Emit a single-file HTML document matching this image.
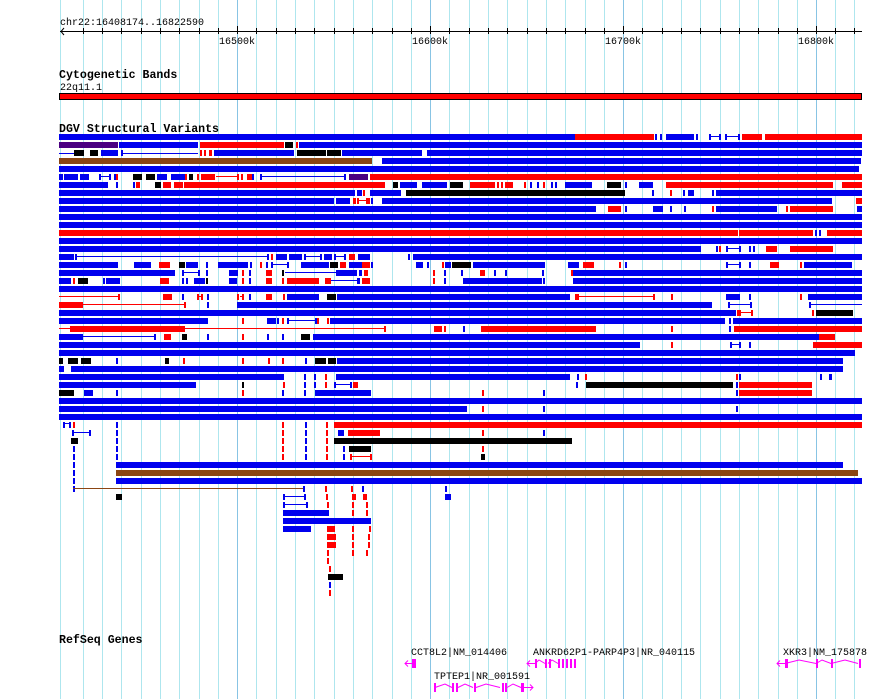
<!DOCTYPE html>
<html><head><meta charset="utf-8"><style>
html,body{margin:0;padding:0;background:#fff;width:890px;height:699px;overflow:hidden}
svg{display:block}
text{font-family:"Liberation Mono","DejaVu Sans Mono",monospace;font-size:10px;fill:#000}
.h{font-weight:bold;font-size:11.6px}
.b{fill:#0000ee}.r{fill:#ff0000}.k{fill:#000}.p{fill:#4b0082}.n{fill:#8b4513}.m{fill:#ff00ff}
</style></head><body>
<svg width="890" height="699" viewBox="0 0 890 699" xmlns="http://www.w3.org/2000/svg">
<g stroke="#aee6ee" stroke-width="1">
<line x1="60.5" y1="0" x2="60.5" y2="699"/>
<line x1="83.5" y1="0" x2="83.5" y2="699"/><line x1="102.5" y1="0" x2="102.5" y2="699"/><line x1="121.5" y1="0" x2="121.5" y2="699"/><line x1="141.5" y1="0" x2="141.5" y2="699"/><line x1="160.5" y1="0" x2="160.5" y2="699"/><line x1="179.5" y1="0" x2="179.5" y2="699"/><line x1="199.5" y1="0" x2="199.5" y2="699"/><line x1="218.5" y1="0" x2="218.5" y2="699"/>
<line x1="256.5" y1="0" x2="256.5" y2="699"/><line x1="276.5" y1="0" x2="276.5" y2="699"/><line x1="295.5" y1="0" x2="295.5" y2="699"/><line x1="314.5" y1="0" x2="314.5" y2="699"/><line x1="334.5" y1="0" x2="334.5" y2="699"/><line x1="353.5" y1="0" x2="353.5" y2="699"/><line x1="372.5" y1="0" x2="372.5" y2="699"/><line x1="392.5" y1="0" x2="392.5" y2="699"/><line x1="411.5" y1="0" x2="411.5" y2="699"/>
<line x1="449.5" y1="0" x2="449.5" y2="699"/><line x1="469.5" y1="0" x2="469.5" y2="699"/><line x1="488.5" y1="0" x2="488.5" y2="699"/><line x1="507.5" y1="0" x2="507.5" y2="699"/><line x1="527.5" y1="0" x2="527.5" y2="699"/><line x1="546.5" y1="0" x2="546.5" y2="699"/><line x1="565.5" y1="0" x2="565.5" y2="699"/><line x1="585.5" y1="0" x2="585.5" y2="699"/><line x1="604.5" y1="0" x2="604.5" y2="699"/>
<line x1="642.5" y1="0" x2="642.5" y2="699"/><line x1="662.5" y1="0" x2="662.5" y2="699"/><line x1="681.5" y1="0" x2="681.5" y2="699"/><line x1="700.5" y1="0" x2="700.5" y2="699"/><line x1="720.5" y1="0" x2="720.5" y2="699"/><line x1="739.5" y1="0" x2="739.5" y2="699"/><line x1="758.5" y1="0" x2="758.5" y2="699"/><line x1="778.5" y1="0" x2="778.5" y2="699"/><line x1="797.5" y1="0" x2="797.5" y2="699"/>
<line x1="835.5" y1="0" x2="835.5" y2="699"/><line x1="854.5" y1="0" x2="854.5" y2="699"/>
</g>
<g stroke="#88c4e4" stroke-width="1">
<line x1="237.5" y1="0" x2="237.5" y2="699"/><line x1="430.5" y1="0" x2="430.5" y2="699"/><line x1="623.5" y1="0" x2="623.5" y2="699"/><line x1="816.5" y1="0" x2="816.5" y2="699"/>
</g>
<!-- ruler -->
<text x="60" y="25">chr22:16408174..16822590</text>
<rect x="60" y="31" width="802" height="1" class="k"/>
<path d="M64 28 L61 31.5 L64 35" stroke="#000" fill="none"/>
<g class="k">
<rect x="83" y="28" width="1" height="6"/><rect x="102" y="28" width="1" height="6"/><rect x="121" y="28" width="1" height="6"/><rect x="141" y="28" width="1" height="6"/><rect x="160" y="28" width="1" height="6"/><rect x="179" y="28" width="1" height="6"/><rect x="199" y="28" width="1" height="6"/><rect x="218" y="28" width="1" height="6"/><rect x="237" y="26" width="1" height="8"/>
<rect x="256" y="28" width="1" height="6"/><rect x="276" y="28" width="1" height="6"/><rect x="295" y="28" width="1" height="6"/><rect x="314" y="28" width="1" height="6"/><rect x="334" y="28" width="1" height="6"/><rect x="353" y="28" width="1" height="6"/><rect x="372" y="28" width="1" height="6"/><rect x="392" y="28" width="1" height="6"/><rect x="411" y="28" width="1" height="6"/><rect x="430" y="26" width="1" height="8"/>
<rect x="449" y="28" width="1" height="6"/><rect x="469" y="28" width="1" height="6"/><rect x="488" y="28" width="1" height="6"/><rect x="507" y="28" width="1" height="6"/><rect x="527" y="28" width="1" height="6"/><rect x="546" y="28" width="1" height="6"/><rect x="565" y="28" width="1" height="6"/><rect x="585" y="28" width="1" height="6"/><rect x="604" y="28" width="1" height="6"/><rect x="623" y="26" width="1" height="8"/>
<rect x="642" y="28" width="1" height="6"/><rect x="662" y="28" width="1" height="6"/><rect x="681" y="28" width="1" height="6"/><rect x="700" y="28" width="1" height="6"/><rect x="720" y="28" width="1" height="6"/><rect x="739" y="28" width="1" height="6"/><rect x="758" y="28" width="1" height="6"/><rect x="778" y="28" width="1" height="6"/><rect x="797" y="28" width="1" height="6"/><rect x="816" y="26" width="1" height="8"/><rect x="835" y="28" width="1" height="6"/><rect x="854" y="28" width="1" height="6"/>
</g>
<text x="219" y="44">16500k</text><text x="412" y="44">16600k</text><text x="605" y="44">16700k</text><text x="798" y="44">16800k</text>
<!-- cytoband -->
<text class="h" x="59" y="78">Cytogenetic Bands</text>
<text x="60" y="90">22q11.1</text>
<rect x="59.5" y="93.5" width="802" height="6" class="r" stroke="#000" stroke-width="1"/>
<text class="h" x="59" y="132">DGV Structural Variants</text>

<!-- rows -->
<g transform="translate(0,134)"><rect class="b" x="59" width="516" height="6"/><rect class="r" x="575" width="79" height="6"/><rect class="b" x="655" width="2" height="6"/><rect class="b" x="660" width="2" height="6"/><rect class="b" x="666" width="28" height="6"/><rect class="b" x="696" width="2" height="6"/><rect class="b" x="709" width="2" height="6"/><rect class="b" x="709" y="2" width="11" height="1"/><rect class="b" x="719" width="2" height="6"/><rect class="b" x="725" width="2" height="6"/><rect class="b" x="725" y="2" width="14" height="1"/><rect class="b" x="738" width="2" height="6"/><rect class="r" x="742" width="20" height="6"/><rect class="r" x="765" width="97" height="6"/></g>
<g transform="translate(0,142)"><rect class="p" x="59" width="59" height="6"/><rect class="b" x="119" width="79" height="6"/><rect class="r" x="200" width="84" height="6"/><rect class="k" x="285" width="8" height="6"/><rect class="r" x="296" width="2" height="6"/><rect class="b" x="299" width="563" height="6"/></g>
<g transform="translate(0,150)"><rect class="b" x="59" y="3" width="15" height="1"/><rect class="k" x="74" width="10" height="6"/><rect class="k" x="90" width="8" height="6"/><rect class="b" x="101" width="17" height="6"/><rect class="b" x="121" y="3" width="77" height="1"/><rect class="b" x="121" width="2" height="6"/><rect class="r" x="200" width="2" height="6"/><rect class="r" x="204" width="2" height="6"/><rect class="r" x="209" width="3" height="6"/><rect class="b" x="214" width="80" height="6"/><rect class="k" x="297" width="29" height="6"/><rect class="k" x="327" width="14" height="6"/><rect class="b" x="342" width="80" height="6"/><rect class="b" x="427" width="435" height="6"/></g>
<g transform="translate(0,158)"><rect class="n" x="59" width="313" height="6"/><rect class="b" x="382" width="479" height="6"/></g>
<g transform="translate(0,166)"><rect class="b" x="59" width="800" height="6"/></g>
<g transform="translate(0,174)"><rect class="b" x="59" width="4" height="6"/><rect class="b" x="64" width="14" height="6"/><rect class="b" x="80" width="9" height="6"/><rect class="b" x="99" y="2" width="12" height="1"/><rect class="b" x="99" width="2" height="6"/><rect class="b" x="109" width="2" height="6"/><rect class="b" x="114" width="2" height="6"/><rect class="r" x="116" width="2" height="6"/><rect class="k" x="133" width="9" height="6"/><rect class="k" x="146" width="9" height="6"/><rect class="b" x="157" width="10" height="6"/><rect class="b" x="171" width="14" height="6"/><rect class="r" x="185" width="2" height="6"/><rect class="k" x="189" width="4" height="6"/><rect class="r" x="197" width="2" height="6"/><rect class="r" x="201" width="14" height="6"/><rect class="r" x="216" y="2" width="22" height="1"/><rect class="r" x="237" width="2" height="6"/><rect class="r" x="241" width="2" height="6"/><rect class="r" x="247" width="5" height="6"/><rect class="b" x="252" width="2" height="6"/><rect class="b" x="260" width="2" height="6"/><rect class="b" x="260" y="2" width="85" height="1"/><rect class="b" x="344" width="2" height="6"/><rect class="p" x="349" width="19" height="6"/><rect class="r" x="370" width="492" height="6"/></g>
<g transform="translate(0,182)"><rect class="b" x="59" width="49" height="6"/><rect class="b" x="116" width="2" height="6"/><rect class="b" x="133" width="2" height="6"/><rect class="r" x="136" width="4" height="6"/><rect class="k" x="155" width="6" height="6"/><rect class="r" x="163" width="8" height="6"/><rect class="r" x="174" width="9" height="6"/><rect class="r" x="184" width="201" height="6"/><rect class="k" x="393" width="5" height="6"/><rect class="b" x="400" width="17" height="6"/><rect class="b" x="422" width="25" height="6"/><rect class="k" x="450" width="13" height="6"/><rect class="r" x="470" width="25" height="6"/><rect class="r" x="497" width="2" height="6"/><rect class="r" x="501" width="2" height="6"/><rect class="r" x="505" width="8" height="6"/><rect class="r" x="524" width="2" height="6"/><rect class="b" x="530" width="2" height="6"/><rect class="b" x="537" width="2" height="6"/><rect class="r" x="543" width="2" height="6"/><rect class="b" x="551" width="2" height="6"/><rect class="b" x="555" width="2" height="6"/><rect class="b" x="565" width="27" height="6"/><rect class="k" x="607" width="14" height="6"/><rect class="b" x="625" width="2" height="6"/><rect class="b" x="639" width="14" height="6"/><rect class="r" x="666" width="167" height="6"/><rect class="r" x="842" width="20" height="6"/></g>
<g transform="translate(0,190)"><rect class="b" x="59" width="296" height="6"/><rect class="b" x="357" width="5" height="6"/><rect class="r" x="363" width="2" height="6"/><rect class="b" x="370" width="31" height="6"/><rect class="k" x="406" width="219" height="6"/><rect class="b" x="652" width="2" height="6"/><rect class="r" x="670" width="2" height="6"/><rect class="b" x="683" width="2" height="6"/><rect class="b" x="688" width="6" height="6"/><rect class="b" x="712" width="2" height="6"/><rect class="b" x="716" width="146" height="6"/></g>
<g transform="translate(0,198)"><rect class="b" x="59" width="275" height="6"/><rect class="b" x="336" width="14" height="6"/><rect class="r" x="353" width="3" height="6"/><rect class="r" x="357" y="2" width="11" height="1"/><rect class="r" x="357" width="2" height="6"/><rect class="r" x="366" width="4" height="6"/><rect class="b" x="371" width="2" height="6"/><rect class="b" x="382" width="450" height="6"/><rect class="r" x="856" width="6" height="6"/></g>
<g transform="translate(0,206)"><rect class="b" x="59" width="537" height="6"/><rect class="r" x="608" width="13" height="6"/><rect class="b" x="625" width="2" height="6"/><rect class="b" x="653" width="10" height="6"/><rect class="b" x="670" width="2" height="6"/><rect class="b" x="684" width="2" height="6"/><rect class="r" x="712" width="2" height="6"/><rect class="b" x="716" width="61" height="6"/><rect class="r" x="786" width="2" height="6"/><rect class="r" x="790" width="43" height="6"/><rect class="b" x="857" width="5" height="6"/></g>
<g transform="translate(0,214)"><rect class="b" x="59" width="803" height="6"/></g>
<g transform="translate(0,222)"><rect class="b" x="59" width="803" height="6"/></g>
<g transform="translate(0,230)"><rect class="r" x="59" width="679" height="6"/><rect class="r" x="739" width="74" height="6"/><rect class="b" x="815" width="2" height="6"/><rect class="b" x="819" width="2" height="6"/><rect class="r" x="827" width="35" height="6"/></g>
<g transform="translate(0,238)"><rect class="b" x="59" width="803" height="6"/></g>
<g transform="translate(0,246)"><rect class="b" x="59" width="642" height="6"/><rect class="b" x="716" width="2" height="6"/><rect class="r" x="719" width="2" height="6"/><rect class="b" x="726" width="2" height="6"/><rect class="b" x="726" y="2" width="14" height="1"/><rect class="b" x="739" width="2" height="6"/><rect class="b" x="749" width="2" height="6"/><rect class="b" x="753" width="2" height="6"/><rect class="r" x="766" width="11" height="6"/><rect class="r" x="790" width="43" height="6"/></g>
<g transform="translate(0,254)"><rect class="b" x="59" width="15" height="6"/><rect class="b" x="75" width="2" height="6"/><rect class="b" x="75" y="2" width="193" height="1"/><rect class="b" x="267" width="2" height="6"/><rect class="r" x="271" width="2" height="6"/><rect class="b" x="276" width="11" height="6"/><rect class="b" x="289" width="13" height="6"/><rect class="b" x="304" width="2" height="6"/><rect class="b" x="304" y="2" width="17" height="1"/><rect class="b" x="320" width="2" height="6"/><rect class="b" x="324" width="8" height="6"/><rect class="b" x="334" width="2" height="6"/><rect class="b" x="334" y="2" width="11" height="1"/><rect class="b" x="344" width="2" height="6"/><rect class="r" x="349" width="6" height="6"/><rect class="b" x="358" width="12" height="6"/><rect class="b" x="408" width="2" height="6"/><rect class="b" x="413" width="449" height="6"/></g>
<g transform="translate(0,262)"><rect class="b" x="59" width="59" height="6"/><rect class="b" x="134" width="17" height="6"/><rect class="r" x="159" width="11" height="6"/><rect class="k" x="179" width="6" height="6"/><rect class="b" x="186" width="12" height="6"/><rect class="b" x="206" width="2" height="6"/><rect class="b" x="218" width="30" height="6"/><rect class="b" x="250" width="2" height="6"/><rect class="r" x="260" width="2" height="6"/><rect class="b" x="266" width="2" height="6"/><rect class="b" x="271" width="2" height="6"/><rect class="b" x="271" y="2" width="17" height="1"/><rect class="b" x="287" width="2" height="6"/><rect class="b" x="301" width="28" height="6"/><rect class="k" x="330" width="8" height="6"/><rect class="r" x="340" width="6" height="6"/><rect class="b" x="349" width="13" height="6"/><rect class="r" x="362" width="8" height="6"/><rect class="b" x="371" width="2" height="6"/><rect class="b" x="416" width="7" height="6"/><rect class="b" x="427" width="2" height="6"/><rect class="r" x="442" width="2" height="6"/><rect class="b" x="445" width="6" height="6"/><rect class="k" x="452" width="19" height="6"/><rect class="b" x="473" width="72" height="6"/><rect class="b" x="568" width="11" height="6"/><rect class="r" x="583" width="11" height="6"/><rect class="r" x="619" width="2" height="6"/><rect class="b" x="625" width="2" height="6"/><rect class="b" x="726" y="2" width="14" height="1"/><rect class="b" x="726" width="2" height="6"/><rect class="b" x="739" width="2" height="6"/><rect class="b" x="749" width="2" height="6"/><rect class="r" x="770" width="9" height="6"/><rect class="r" x="800" width="2" height="6"/><rect class="b" x="804" width="48" height="6"/></g>
<g transform="translate(0,270)"><rect class="b" x="59" width="116" height="6"/><rect class="b" x="182" width="2" height="6"/><rect class="b" x="182" y="2" width="17" height="1"/><rect class="b" x="198" width="2" height="6"/><rect class="b" x="206" width="2" height="6"/><rect class="b" x="229" width="9" height="6"/><rect class="r" x="242" width="2" height="6"/><rect class="b" x="249" width="2" height="6"/><rect class="r" x="266" width="6" height="6"/><rect class="k" x="282" width="2" height="6"/><rect class="b" x="285" y="2" width="51" height="1"/><rect class="b" x="336" width="21" height="6"/><rect class="b" x="359" width="3" height="6"/><rect class="r" x="364" width="4" height="6"/><rect class="r" x="433" width="2" height="6"/><rect class="b" x="444" width="2" height="6"/><rect class="b" x="461" width="2" height="6"/><rect class="r" x="480" width="5" height="6"/><rect class="b" x="494" width="2" height="6"/><rect class="b" x="505" width="2" height="6"/><rect class="b" x="542" width="2" height="6"/><rect class="r" x="571" width="2" height="6"/><rect class="b" x="573" width="289" height="6"/></g>
<g transform="translate(0,278)"><rect class="b" x="59" width="12" height="6"/><rect class="r" x="73" width="2" height="6"/><rect class="k" x="78" width="10" height="6"/><rect class="b" x="103" width="2" height="6"/><rect class="b" x="106" width="14" height="6"/><rect class="r" x="160" width="9" height="6"/><rect class="b" x="182" width="2" height="6"/><rect class="b" x="186" width="2" height="6"/><rect class="b" x="194" width="11" height="6"/><rect class="k" x="206" width="2" height="6"/><rect class="b" x="229" width="8" height="6"/><rect class="r" x="242" width="2" height="6"/><rect class="b" x="249" width="2" height="6"/><rect class="r" x="266" width="6" height="6"/><rect class="r" x="282" width="2" height="6"/><rect class="r" x="287" width="32" height="6"/><rect class="r" x="325" width="6" height="6"/><rect class="b" x="331" y="2" width="26" height="1"/><rect class="b" x="357" width="3" height="6"/><rect class="r" x="362" width="8" height="6"/><rect class="r" x="433" width="2" height="6"/><rect class="b" x="444" width="2" height="6"/><rect class="b" x="463" width="79" height="6"/><rect class="b" x="543" width="2" height="6"/><rect class="b" x="573" width="289" height="6"/></g>
<g transform="translate(0,286)"><rect class="b" x="59" width="803" height="6"/></g>
<g transform="translate(0,294)"><rect class="r" x="59" y="2" width="60" height="1"/><rect class="r" x="118" width="2" height="6"/><rect class="r" x="163" width="9" height="6"/><rect class="b" x="182" width="2" height="6"/><rect class="r" x="197" width="2" height="6"/><rect class="r" x="197" y="2" width="5" height="1"/><rect class="r" x="201" width="2" height="6"/><rect class="b" x="207" width="2" height="6"/><rect class="r" x="237" width="2" height="6"/><rect class="r" x="240" y="2" width="2" height="1"/><rect class="r" x="242" width="2" height="6"/><rect class="b" x="249" width="2" height="6"/><rect class="r" x="266" width="6" height="6"/><rect class="r" x="283" width="2" height="6"/><rect class="b" x="287" width="32" height="6"/><rect class="k" x="327" width="3" height="6"/><rect class="k" x="330" width="6" height="6"/><rect class="b" x="337" width="233" height="6"/><rect class="r" x="575" width="4" height="6"/><rect class="r" x="579" y="2" width="75" height="1"/><rect class="r" x="653" width="2" height="6"/><rect class="r" x="671" width="2" height="6"/><rect class="b" x="726" width="14" height="6"/><rect class="b" x="749" width="2" height="6"/><rect class="r" x="800" width="2" height="6"/><rect class="b" x="808" width="54" height="6"/></g>
<g transform="translate(0,302)"><rect class="r" x="59" width="24" height="6"/><rect class="r" x="83" y="2" width="102" height="1"/><rect class="r" x="184" width="2" height="6"/><rect class="b" x="207" width="2" height="6"/><rect class="b" x="237" width="475" height="6"/><rect class="b" x="728" width="2" height="6"/><rect class="b" x="728" y="2" width="23" height="1"/><rect class="b" x="750" width="2" height="6"/><rect class="b" x="809" width="2" height="6"/><rect class="b" x="809" y="2" width="53" height="1"/></g>
<g transform="translate(0,310)"><rect class="b" x="59" width="677" height="6"/><rect class="r" x="737" width="4" height="6"/><rect class="r" x="741" y="2" width="11" height="1"/><rect class="r" x="751" width="2" height="6"/><rect class="r" x="812" width="2" height="6"/><rect class="k" x="816" width="37" height="6"/></g>
<g transform="translate(0,318)"><rect class="b" x="59" width="149" height="6"/><rect class="r" x="242" width="2" height="6"/><rect class="b" x="267" width="9" height="6"/><rect class="b" x="277" width="2" height="6"/><rect class="r" x="282" width="2" height="6"/><rect class="b" x="287" width="2" height="6"/><rect class="b" x="288" y="2" width="28" height="1"/><rect class="b" x="315" width="2" height="6"/><rect class="r" x="317" width="2" height="6"/><rect class="r" x="327" width="2" height="6"/><rect class="b" x="330" width="152" height="6"/><rect class="b" x="482" width="243" height="6"/><rect class="b" x="729" width="2" height="6"/><rect class="b" x="733" width="129" height="6"/></g>
<g transform="translate(0,326)"><rect class="r" x="59" y="2" width="326" height="1"/><rect class="r" x="70" width="115" height="6"/><rect class="r" x="384" width="2" height="6"/><rect class="r" x="434" width="8" height="6"/><rect class="r" x="444" width="2" height="6"/><rect class="b" x="463" width="2" height="6"/><rect class="b" x="485" width="2" height="6"/><rect class="r" x="481" width="115" height="6"/><rect class="r" x="671" width="2" height="6"/><rect class="b" x="729" width="2" height="6"/><rect class="r" x="734" width="128" height="6"/></g>
<g transform="translate(0,334)"><rect class="b" x="59" width="24" height="6"/><rect class="b" x="83" y="2" width="72" height="1"/><rect class="b" x="154" width="2" height="6"/><rect class="r" x="164" width="7" height="6"/><rect class="k" x="182" width="5" height="6"/><rect class="b" x="207" width="2" height="6"/><rect class="r" x="242" width="2" height="6"/><rect class="b" x="267" width="2" height="6"/><rect class="b" x="282" width="2" height="6"/><rect class="k" x="301" width="9" height="6"/><rect class="b" x="313" width="506" height="6"/><rect class="r" x="819" width="16" height="6"/></g>
<g transform="translate(0,342)"><rect class="b" x="59" width="581" height="6"/><rect class="r" x="671" width="2" height="6"/><rect class="b" x="730" width="2" height="6"/><rect class="b" x="730" y="2" width="10" height="1"/><rect class="b" x="739" width="2" height="6"/><rect class="b" x="749" width="2" height="6"/><rect class="r" x="813" width="49" height="6"/></g>
<g transform="translate(0,350)"><rect class="b" x="59" width="796" height="6"/></g>
<g transform="translate(0,358)"><rect class="k" x="59" width="4" height="6"/><rect class="k" x="68" width="10" height="6"/><rect class="k" x="81" width="10" height="6"/><rect class="b" x="116" width="2" height="6"/><rect class="k" x="165" width="4" height="6"/><rect class="r" x="183" width="2" height="6"/><rect class="r" x="242" width="2" height="6"/><rect class="r" x="268" width="2" height="6"/><rect class="r" x="282" width="2" height="6"/><rect class="b" x="305" width="2" height="6"/><rect class="k" x="315" width="11" height="6"/><rect class="k" x="328" width="8" height="6"/><rect class="b" x="337" width="506" height="6"/></g>
<g transform="translate(0,366)"><rect class="b" x="59" width="5" height="6"/><rect class="b" x="71" width="772" height="6"/></g>
<g transform="translate(0,374)"><rect class="b" x="59" width="225" height="6"/><rect class="b" x="304" width="2" height="6"/><rect class="b" x="314" width="2" height="6"/><rect class="r" x="325" width="2" height="6"/><rect class="b" x="336" width="234" height="6"/><rect class="b" x="577" width="2" height="6"/><rect class="r" x="585" width="2" height="6"/><rect class="r" x="736" width="2" height="6"/><rect class="b" x="739" width="2" height="6"/><rect class="b" x="820" width="2" height="6"/><rect class="b" x="829" width="3" height="6"/></g>
<g transform="translate(0,382)"><rect class="b" x="59" width="137" height="6"/><rect class="k" x="242" width="2" height="6"/><rect class="r" x="283" width="2" height="6"/><rect class="b" x="304" width="2" height="6"/><rect class="b" x="314" width="2" height="6"/><rect class="r" x="325" width="2" height="6"/><rect class="b" x="334" width="2" height="6"/><rect class="b" x="334" y="2" width="17" height="1"/><rect class="b" x="350" width="2" height="6"/><rect class="r" x="353" width="5" height="6"/><rect class="b" x="576" width="2" height="6"/><rect class="k" x="586" width="147" height="6"/><rect class="b" x="736" width="2" height="6"/><rect class="r" x="739" width="73" height="6"/></g>
<g transform="translate(0,390)"><rect class="k" x="59" width="15" height="6"/><rect class="b" x="84" width="9" height="6"/><rect class="b" x="116" width="2" height="6"/><rect class="r" x="242" width="2" height="6"/><rect class="b" x="282" width="2" height="6"/><rect class="b" x="304" width="2" height="6"/><rect class="b" x="315" width="56" height="6"/><rect class="r" x="482" width="2" height="6"/><rect class="b" x="543" width="2" height="6"/><rect class="b" x="736" width="2" height="6"/><rect class="r" x="739" width="73" height="6"/></g>
<g transform="translate(0,398)"><rect class="b" x="59" width="803" height="6"/></g>
<g transform="translate(0,406)"><rect class="b" x="59" width="408" height="6"/><rect class="r" x="482" width="2" height="6"/><rect class="b" x="543" width="2" height="6"/><rect class="b" x="736" width="2" height="6"/></g>
<g transform="translate(0,414)"><rect class="b" x="59" width="803" height="6"/></g>
<g transform="translate(0,422)"><rect class="b" x="63" width="2" height="6"/><rect class="b" x="63" y="1" width="8" height="1"/><rect class="b" x="69" width="2" height="6"/><rect class="r" x="73" width="2" height="6"/><rect class="b" x="116" width="2" height="6"/><rect class="r" x="282" width="2" height="6"/><rect class="b" x="305" width="2" height="6"/><rect class="r" x="326" width="2" height="6"/><rect class="r" x="334" width="528" height="6"/></g>
<g transform="translate(0,430)"><rect class="b" x="72" width="2" height="6"/><rect class="b" x="72" y="2" width="18" height="1"/><rect class="b" x="89" width="2" height="6"/><rect class="b" x="116" width="2" height="6"/><rect class="r" x="282" width="2" height="6"/><rect class="b" x="305" width="2" height="6"/><rect class="r" x="326" width="2" height="6"/><rect class="b" x="338" width="6" height="6"/><rect class="r" x="348" width="32" height="6"/><rect class="r" x="482" width="2" height="6"/><rect class="b" x="543" width="2" height="6"/></g>
<g transform="translate(0,438)"><rect class="k" x="71" width="7" height="6"/><rect class="b" x="116" width="2" height="6"/><rect class="r" x="282" width="2" height="6"/><rect class="b" x="305" width="2" height="6"/><rect class="r" x="326" width="2" height="6"/><rect class="k" x="334" width="238" height="6"/></g>
<g transform="translate(0,446)"><rect class="b" x="73" width="2" height="6"/><rect class="b" x="116" width="2" height="6"/><rect class="r" x="282" width="2" height="6"/><rect class="b" x="305" width="2" height="6"/><rect class="r" x="326" width="2" height="6"/><rect class="b" x="343" width="2" height="6"/><rect class="k" x="349" width="22" height="6"/><rect class="r" x="482" width="2" height="6"/></g>
<g transform="translate(0,454)"><rect class="b" x="73" width="2" height="6"/><rect class="b" x="116" width="2" height="6"/><rect class="r" x="282" width="2" height="6"/><rect class="b" x="305" width="2" height="6"/><rect class="r" x="326" width="2" height="6"/><rect class="b" x="343" width="2" height="6"/><rect class="r" x="350" width="2" height="6"/><rect class="r" x="350" y="2" width="22" height="1"/><rect class="r" x="370" width="2" height="6"/><rect class="k" x="481" width="4" height="6"/></g>
<g transform="translate(0,462)"><rect class="b" x="73" width="2" height="6"/><rect class="b" x="116" width="727" height="6"/></g>
<g transform="translate(0,470)"><rect class="b" x="73" width="2" height="6"/><rect class="n" x="116" width="742" height="6"/></g>
<g transform="translate(0,478)"><rect class="b" x="73" width="2" height="6"/><rect class="b" x="116" width="746" height="6"/></g>
<g transform="translate(0,486)"><rect class="b" x="73" width="2" height="6"/><rect class="n" x="73" y="2" width="230" height="1"/><rect class="b" x="303" width="2" height="6"/><rect class="r" x="325" width="2" height="6"/><rect class="r" x="351" width="2" height="6"/><rect class="b" x="362" width="2" height="6"/><rect class="b" x="445" width="2" height="6"/></g>
<g transform="translate(0,494)"><rect class="k" x="116" width="6" height="6"/><rect class="b" x="283" width="2" height="6"/><rect class="b" x="283" y="2" width="22" height="1"/><rect class="b" x="304" width="2" height="6"/><rect class="r" x="326" width="2" height="6"/><rect class="r" x="352" width="4" height="6"/><rect class="r" x="363" width="4" height="6"/><rect class="b" x="445" width="6" height="6"/></g>
<g transform="translate(0,502)"><rect class="b" x="283" width="2" height="6"/><rect class="b" x="283" y="2" width="24" height="1"/><rect class="b" x="306" width="2" height="6"/><rect class="r" x="327" width="2" height="6"/><rect class="r" x="352" width="2" height="6"/><rect class="r" x="366" width="2" height="6"/></g>
<g transform="translate(0,510)"><rect class="b" x="283" width="46" height="6"/><rect class="r" x="352" width="2" height="6"/><rect class="r" x="366" width="2" height="6"/></g>
<g transform="translate(0,518)"><rect class="b" x="283" width="88" height="6"/></g>
<g transform="translate(0,526)"><rect class="b" x="283" width="28" height="6"/><rect class="r" x="327" width="8" height="6"/><rect class="r" x="352" width="2" height="6"/><rect class="r" x="369" width="2" height="6"/></g>
<g transform="translate(0,534)"><rect class="r" x="327" width="9" height="6"/><rect class="r" x="352" width="2" height="6"/><rect class="r" x="368" width="2" height="6"/></g>
<g transform="translate(0,542)"><rect class="r" x="327" width="9" height="6"/><rect class="r" x="352" width="2" height="6"/><rect class="r" x="368" width="2" height="6"/></g>
<g transform="translate(0,550)"><rect class="r" x="327" width="2" height="6"/><rect class="r" x="352" width="2" height="6"/><rect class="r" x="366" width="2" height="6"/></g>
<g transform="translate(0,558)"><rect class="r" x="327" width="2" height="6"/></g>
<g transform="translate(0,566)"><rect class="r" x="329" width="2" height="6"/></g>
<g transform="translate(0,574)"><rect class="k" x="328" width="15" height="6"/></g>
<g transform="translate(0,582)"><rect class="b" x="329" width="2" height="6"/></g>
<g transform="translate(0,590)"><rect class="r" x="329" width="2" height="6"/></g>

<!-- RefSeq -->
<text class="h" x="59" y="643">RefSeq Genes</text>
<text x="411" y="655">CCT8L2|NM_014406</text>
<text x="533" y="655">ANKRD62P1-PARP4P3|NR_040115</text>
<text x="783" y="655">XKR3|NM_175878</text>
<text x="434" y="679">TPTEP1|NR_001591</text>
<g stroke="#ff00ff" fill="none" stroke-width="1">
<path d="M408 660.5 L405 663.5 L408 666.5 M405 663.5 H412"/>
<path d="M530 660.5 L527 663.5 L530 666.5 M527 663.5 H535 L539 660 L545 663.5 M548 663.5 L552 660 L558 663.5"/>
<path d="M780 660.5 L777 663.5 L780 666.5 M777 663.5 H785 L799 660 L816 663.5 L822 660 L831 663.5 L845 660 L858 663.5"/>
<path d="M435 687.5 L445 684 L452 687.5 M458 687.5 L465 684 L473 687.5 M476 687.5 L486 684 L500 687.5 M507 687.5 L513 684 L521 687.5 M524 687.5 H533 M530 684.5 L533 687.5 L530 690.5"/>
</g>
<g class="m">
<rect x="412" y="659" width="4" height="9"/>
<rect x="535" y="659" width="2" height="9"/><rect x="545" y="659" width="2" height="9"/><rect x="549" y="659" width="2" height="9"/><rect x="558" y="659" width="2" height="9"/><rect x="562" y="659" width="2" height="9"/><rect x="566" y="659" width="2" height="9"/><rect x="570" y="659" width="2" height="9"/><rect x="574" y="659" width="2" height="9"/>
<rect x="785" y="659" width="3" height="9"/><rect x="816" y="659" width="2" height="9"/><rect x="831" y="659" width="2" height="9"/><rect x="859" y="659" width="2" height="9"/>
<rect x="434" y="683" width="2" height="9"/><rect x="452" y="683" width="2" height="9"/><rect x="456" y="683" width="2" height="9"/><rect x="474" y="683" width="2" height="9"/><rect x="502" y="683" width="2" height="9"/><rect x="505" y="683" width="2" height="9"/><rect x="521" y="683" width="3" height="9"/>
</g>
</svg>
</body></html>
